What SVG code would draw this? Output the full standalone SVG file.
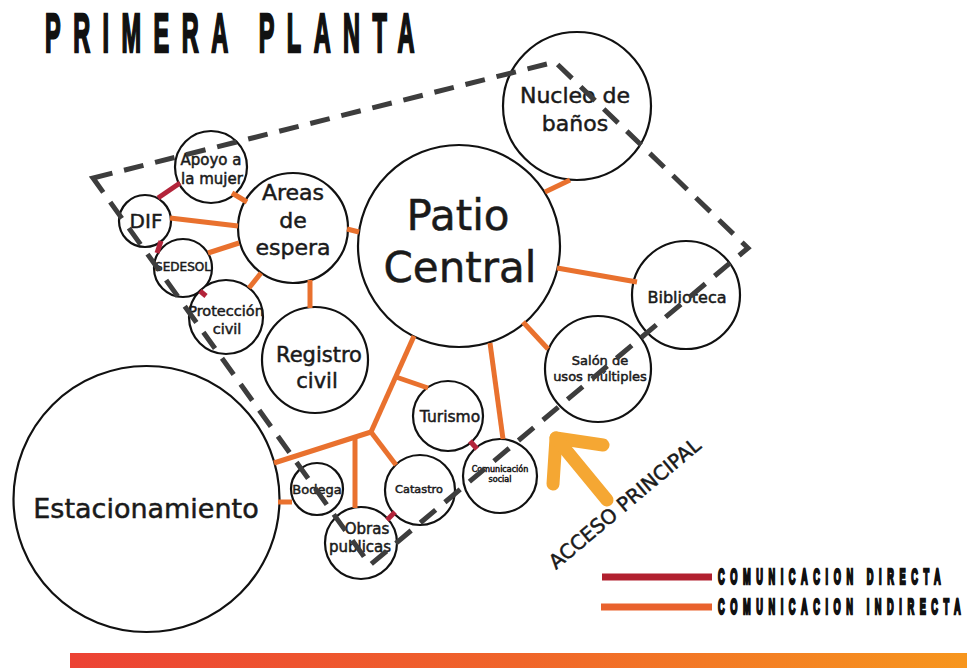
<svg xmlns="http://www.w3.org/2000/svg" width="967" height="668" viewBox="0 0 967 668">
<defs>
<linearGradient id="bar" x1="0" y1="0" x2="1" y2="0">
<stop offset="0" stop-color="#EC4234"/>
<stop offset="0.5" stop-color="#F0652A"/>
<stop offset="1" stop-color="#F7961E"/>
</linearGradient>
</defs>
<style>
.n{fill:#fff;stroke:#111;stroke-width:2.2}
.t{font-family:"DejaVu Sans","Liberation Sans",sans-serif;fill:#1a1a1a;stroke:#1a1a1a;stroke-width:0.5;text-anchor:middle}
.ind{stroke:#E9712E;stroke-width:5;fill:none}
.dir{stroke:#B3243A;stroke-width:5;fill:none}
.hd{font-family:"Liberation Sans",Arial,sans-serif;font-weight:bold;fill:#111;stroke:#111;stroke-width:2.5}
</style>
<rect width="967" height="668" fill="#fff"/>
<text class="hd" font-size="56" transform="translate(45,52) scale(0.42,1)" textLength="880" lengthAdjust="spacing">PRIMERA PLANTA</text>

<g id="estacionamiento"><circle class="n" cx="146.5" cy="499" r="133" stroke-width="5"/><text class="t" x="146" y="518" font-size="27">Estacionamiento</text></g>
<g id="patio"><circle class="n" cx="459" cy="246" r="101" stroke-width="4.5"/><text class="t" x="458" y="230" font-size="42">Patio</text><text class="t" x="460" y="282" font-size="42">Central</text></g>
<g id="nucleo"><circle class="n" cx="577" cy="106" r="74" stroke-width="3.5"/><text class="t" x="575" y="103" font-size="22">Nucleo de</text><text class="t" x="575" y="131" font-size="22">baños</text></g>
<g id="biblioteca"><circle class="n" cx="686" cy="295" r="54" stroke-width="2.5"/><text class="t" x="687" y="303" font-size="16">Biblioteca</text></g>
<g id="salon"><circle class="n" cx="598" cy="369" r="53" stroke-width="2.5"/><text class="t" x="600" y="365" font-size="13">Salón de</text><text class="t" x="600" y="381" font-size="13">usos múltiples</text></g>
<g id="areas"><circle class="n" cx="293" cy="228" r="55" stroke-width="2.5"/><text class="t" x="293" y="200" font-size="22">Areas</text><text class="t" x="293" y="228" font-size="22">de</text><text class="t" x="293" y="255" font-size="22">espera</text></g>
<g id="apoyo"><circle class="n" cx="211" cy="167" r="36"/><text class="t" x="211" y="165" font-size="15">Apoyo a</text><text class="t" x="212" y="184" font-size="15">la mujer</text></g>
<g id="dif"><circle class="n" cx="145" cy="221" r="26"/><text class="t" x="146" y="228" font-size="20">DIF</text></g>
<g id="sedesol"><circle class="n" cx="183" cy="268" r="29"/><text class="t" x="183" y="271" font-size="12">SEDESOL</text></g>
<g id="proteccion"><circle class="n" cx="226" cy="317" r="37"/><text class="t" x="226" y="316" font-size="14.5">Protección</text><text class="t" x="227" y="334" font-size="14.5">civil</text></g>
<g id="registro"><circle class="n" cx="315" cy="360" r="53" stroke-width="3"/><text class="t" x="319" y="362" font-size="21">Registro</text><text class="t" x="317" y="388" font-size="21">civil</text></g>
<g id="turismo"><circle class="n" cx="448" cy="416" r="35"/><text class="t" x="450" y="422" font-size="15.5">Turismo</text></g>
<g id="comunicacion"><circle class="n" cx="500" cy="476" r="37"/><text class="t" x="500" y="472" font-size="8" stroke-width="0.2">Comunicación</text><text class="t" x="500" y="482" font-size="8" stroke-width="0.2">social</text></g>
<g id="catastro"><circle class="n" cx="420" cy="490" r="35"/><text class="t" x="419" y="493" font-size="11.3">Catastro</text></g>
<g id="bodega"><circle class="n" cx="317" cy="489" r="26"/><text class="t" x="317" y="494" font-size="13">Bodega</text></g>
<g id="obras"><circle class="n" cx="361" cy="543" r="36"/><text class="t" x="367" y="534" font-size="15">Obras</text><text class="t" x="360" y="552" font-size="15">publicas</text></g>

<g id="connectors">
<line class="ind" x1="545" y1="192" x2="570" y2="180"/>
<line class="ind" x1="557" y1="268" x2="637" y2="282"/>
<line class="ind" x1="523" y1="322" x2="548" y2="349"/>
<line class="ind" x1="347" y1="229" x2="359" y2="232"/>
<line class="ind" x1="232" y1="193" x2="247" y2="202"/>
<line class="ind" x1="170" y1="218" x2="238" y2="226"/>
<line class="ind" x1="208" y1="253" x2="239" y2="243"/>
<line class="ind" x1="249" y1="288" x2="261" y2="273"/>
<line class="ind" x1="310" y1="280" x2="310" y2="308"/>
<line class="ind" x1="414" y1="336" x2="371" y2="432"/>
<line class="ind" x1="396" y1="377" x2="428" y2="388"/>
<line class="ind" x1="371" y1="432" x2="274" y2="463"/>
<line class="ind" x1="355" y1="437" x2="355" y2="508"/>
<line class="ind" x1="371" y1="432" x2="396" y2="465"/>
<line class="ind" x1="278" y1="502" x2="292" y2="502"/>
<line class="ind" x1="490" y1="343" x2="503" y2="439"/>
<line class="dir" x1="158" y1="198" x2="180" y2="183"/>
<line class="dir" x1="161" y1="241" x2="157" y2="253"/>
<line class="dir" x1="200" y1="291" x2="206" y2="296"/>
<line class="dir" x1="470" y1="441" x2="477" y2="449"/>
<line class="dir" x1="395" y1="512" x2="387" y2="520"/>
</g>

<polygon points="93,178 555,62 748,248 370,565" fill="none" stroke="#3d3d3d" stroke-width="5" stroke-dasharray="20 12"/>

<g id="acceso">
<polyline points="603,445 556,438 553,484" fill="none" stroke="#F5A733" stroke-width="13" stroke-linecap="round" stroke-linejoin="round"/>
<line x1="556" y1="438" x2="607" y2="500" stroke="#F5A733" stroke-width="13" stroke-linecap="round"/>
<text class="t" style="text-anchor:start" font-size="20" stroke-width="0.3" transform="translate(556,570) rotate(-40)">ACCESO PRINCIPAL</text>
</g>

<g id="legend">
<line x1="602" y1="577" x2="712" y2="577" stroke="#B1202F" stroke-width="7"/>
<line x1="601" y1="607" x2="712" y2="607" stroke="#E9622D" stroke-width="7"/>
<text class="hd" font-size="22" stroke-width="1.5" transform="translate(718,584) scale(0.42,1)" textLength="530" lengthAdjust="spacing">COMUNICACION DIRECTA</text>
<text class="hd" font-size="22" stroke-width="1.5" transform="translate(718,614) scale(0.42,1)" textLength="578" lengthAdjust="spacing">COMUNICACION INDIRECTA</text>
</g>

<rect x="70" y="653" width="897" height="15" fill="url(#bar)"/>
</svg>
